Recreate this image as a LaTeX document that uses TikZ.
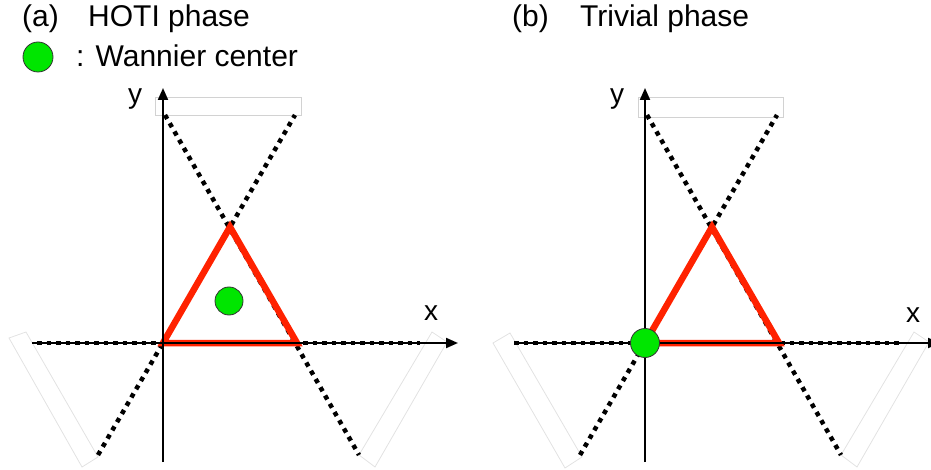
\documentclass[tikz,border=0pt]{standalone}
\usepackage{fontspec}
\setmainfont{Liberation Sans}
\usetikzlibrary{arrows.meta, positioning}
\usepackage{xcolor}
\definecolor{BandRed}{HTML}{FF2200}
\definecolor{WannierGreen}{HTML}{00E600}
\definecolor{MaskGray}{HTML}{D2D2D2}
\definecolor{MaskLight}{HTML}{E2E2E2}
\tikzset{
    % Line styles
    axis/.style={
        -{Triangle[length=12pt,width=10pt]},
        line width=2pt,
        draw=black
    },
    dotline/.style={
        line width=4.5pt,
        dash pattern=on 4.5pt off 5pt,
        draw=black
    },
    bandtri/.style={
        draw=BandRed,
        line width=6.5pt,
        line join=miter
    },
    maskbox/.style={
        draw=MaskGray,
        line width=0.8pt
    },
    % Node styles
    wannier/.style={
        circle,
        draw=black!80,
        fill=WannierGreen,
        line width=0.8pt,
        minimum size=28pt,
        inner sep=0pt
    },
    title/.style={
        font=\fontsize{30}{36}\selectfont,
        anchor=base west,
        inner sep=0pt
    },
    axlabel/.style={
        font=\fontsize{28}{32}\selectfont,
        inner sep=0pt
    }
}

\begin{document}
\begin{tikzpicture}[x=1pt, y=-1pt]
    \useasboundingbox (0,0) rectangle (931,470);

    % Titles and legend
    \node[title] (tagA) at (22,27) {(a)};
    \node[title] (titleA) at (88,27) {HOTI phase};
    \node[title] (tagB) at (512,27) {(b)};
    \node[title] (titleB) at (580,27) {Trivial phase};
    \node[wannier, minimum size=30pt] (legdot) at (38,57) {};
    \node[title] (legtext) at (76,67) {: Wannier center};

    % (a) HOTI phase
    \begin{scope}[shift={(163,343)}]
        \draw[maskbox] (-8,-246) rectangle (138,-228);
        \draw[maskbox, draw=MaskLight] (-154,-5) -- (-137,-11) -- (-65,114) -- (-81,124) -- cycle;
        \draw[maskbox, draw=MaskLight] (269,-11) -- (284,-1) -- (212,124) -- (196,112) -- cycle;
        \coordinate (aO) at (0,0);
        \coordinate (aR) at (134,0);
        \coordinate (aT) at (67,-116);
        \coordinate (aLow1) at (-65,112);
        \coordinate (aUp1) at (132,-228);
        \coordinate (aLow2) at (196,112);
        \coordinate (aUp2) at (2,-228);
        \coordinate (aW) at (-126,0);
        \coordinate (aE) at (257,0);
        \draw[dotline] (aLow1) -- (aUp1);
        \draw[dotline] (aUp2) -- (aLow2);
        \draw[dotline] (aW) -- (aE);
        \draw[bandtri] (aO) -- (aR) -- (aT) -- cycle;
        \coordinate (aXs) at (-131,0);
        \coordinate (aXe) at (295,0);
        \coordinate (aYs) at (0,119);
        \coordinate (aYe) at (0,-255);
        \draw[axis] (aXs) -- (aXe);
        \draw[axis] (aYs) -- (aYe);
        \node[axlabel] (aXlab) at (268,-30) {x};
        \node[axlabel] (aYlab) at (-28,-244) {y};
        \node[wannier] (aDot) at (66,-42) {};
    \end{scope}

    % (b) Trivial phase
    \begin{scope}[shift={(645,343)}]
        \draw[maskbox] (-7,-246) rectangle (138,-226);
        \draw[maskbox, draw=MaskLight] (-152,0) -- (-135,-10) -- (-63,114) -- (-80,125) -- cycle;
        \draw[maskbox, draw=MaskLight] (269,-11) -- (284,-1) -- (212,124) -- (196,112) -- cycle;
        \coordinate (bO) at (0,0);
        \coordinate (bR) at (134,0);
        \coordinate (bT) at (67,-116);
        \coordinate (bLow1) at (-65,112);
        \coordinate (bUp1) at (132,-228);
        \coordinate (bLow2) at (196,112);
        \coordinate (bUp2) at (2,-228);
        \coordinate (bW) at (-131,0);
        \coordinate (bE) at (257,0);
        \draw[dotline] (bLow1) -- (bUp1);
        \draw[dotline] (bUp2) -- (bLow2);
        \draw[dotline] (bW) -- (bE);
        \draw[bandtri] (bO) -- (bR) -- (bT) -- cycle;
        \coordinate (bXs) at (-131,0);
        \coordinate (bXe) at (295,0);
        \coordinate (bYs) at (0,119);
        \coordinate (bYe) at (0,-255);
        \draw[axis] (bXs) -- (bXe);
        \draw[axis] (bYs) -- (bYe);
        \node[axlabel] (bXlab) at (268,-28) {x};
        \node[axlabel] (bYlab) at (-28,-244) {y};
        \node[wannier, minimum size=29pt] (bDot) at (bO) {};
    \end{scope}
\end{tikzpicture}
\end{document}
